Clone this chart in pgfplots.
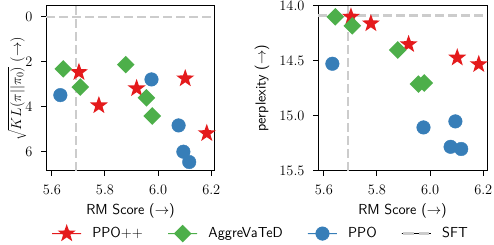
\documentclass[border=0pt]{standalone}
\usepackage{pgfplots}
\pgfplotsset{compat=1.18}
\definecolor{cRed}{HTML}{E41A1C}
\definecolor{cGreen}{HTML}{4DAF4A}
\definecolor{cBlue}{HTML}{377EB8}
\definecolor{cGray}{HTML}{CCCCCC}
\pgfdeclareplotmark{fstar}{%
  \pgfpathmoveto{\pgfpointpolar{90}{\pgfplotmarksize}}%
  \pgfpathlineto{\pgfpointpolar{126}{0.4*\pgfplotmarksize}}%
  \pgfpathlineto{\pgfpointpolar{162}{\pgfplotmarksize}}%
  \pgfpathlineto{\pgfpointpolar{198}{0.4*\pgfplotmarksize}}%
  \pgfpathlineto{\pgfpointpolar{234}{\pgfplotmarksize}}%
  \pgfpathlineto{\pgfpointpolar{270}{0.4*\pgfplotmarksize}}%
  \pgfpathlineto{\pgfpointpolar{306}{\pgfplotmarksize}}%
  \pgfpathlineto{\pgfpointpolar{342}{0.4*\pgfplotmarksize}}%
  \pgfpathlineto{\pgfpointpolar{18}{\pgfplotmarksize}}%
  \pgfpathlineto{\pgfpointpolar{54}{0.4*\pgfplotmarksize}}%
  \pgfpathclose
  \pgfusepathqfill
}
\pgfdeclareplotmark{sqdiamond}{%
  \pgfpathmoveto{\pgfqpoint{0pt}{\pgfplotmarksize}}%
  \pgfpathlineto{\pgfqpoint{\pgfplotmarksize}{0pt}}%
  \pgfpathlineto{\pgfqpoint{0pt}{-\pgfplotmarksize}}%
  \pgfpathlineto{\pgfqpoint{-\pgfplotmarksize}{0pt}}%
  \pgfpathclose
  \pgfusepathqfill
}
\newcommand{\fs}{\fontsize{14.5}{17}\selectfont}
\pgfplotsset{
  myax/.style={
    scale only axis, width=169pt, height=165pt,
    xmin=5.578, xmax=6.214,
    xtick={5.6,5.8,6.0,6.2},
    y dir=reverse,
    tick pos=left, tick align=outside, major tick length=5pt,
    axis line style={line width=1pt},
    every tick/.style={line width=1pt, black},
    tick label style={font=\fs},
    label style={font=\fs\sffamily},
    xticklabel style={yshift=-6pt, /pgf/number format/.cd, fixed, fixed zerofill, precision=1},
    yticklabel style={xshift=-5pt},
    xlabel={RM Score ($\rightarrow$)},
    xlabel style={at={(axis description cs:0.5,0)}, anchor=center, yshift=-40pt},
    clip=false,
  },
  sft/.style={cGray, line width=2.2pt, dash pattern=on 9pt off 4pt},
  pstar/.style={only marks, mark=fstar, mark size=9.5pt, color=cRed, fill=cRed},
  pdia/.style={only marks, mark=sqdiamond, mark size=8.8pt, color=cGreen, fill=cGreen},
  pcirc/.style={only marks, mark=*, mark size=6.8pt, color=cBlue, fill=cBlue, mark options={draw=cBlue, fill=cBlue}},
  mklegend/.style={legend image code/.code={%
    \path (0pt,0pt) rectangle (29pt,0pt);
    \draw[mark repeat=2, mark phase=2, ##1] plot coordinates {(0pt,0pt) (14.5pt,0pt) (29pt,0pt)};}},
}
\begin{document}
\begin{tikzpicture}
\path[use as bounding box] (0,0) rectangle (494pt,245pt);
\begin{axis}[myax, at={(46pt,74pt)}, anchor=south west,
  ymin=-0.49, ymax=6.86, ytick={0,2,4,6},
  ylabel={$\sqrt{KL(\pi||\pi_0)}$ $(\rightarrow)$},
  ylabel style={at={(axis description cs:-0.172,0.5)}, anchor=center, inner sep=0pt},
  legend columns=4,
  legend style={at={(0.0166,-0.377)}, anchor=west, draw=none, fill=none, font=\fs\sffamily,
    nodes={inner sep=0pt},
    /tikz/every odd column/.append style={column sep=11pt},
    /tikz/every even column/.append style={column sep=25pt}},
]
\addplot[sft, forget plot] coordinates {(5.69,-0.49) (5.69,6.86)};
\addplot[sft, forget plot] coordinates {(5.578,0) (6.214,0)};
\addplot[pstar, mklegend] coordinates {(5.702,2.46) (5.777,3.94) (5.919,3.18) (6.102,2.74) (6.183,5.18)};
\addlegendentry{PPO++}
\addplot[pdia, mklegend] coordinates {(5.643,2.31) (5.707,3.12) (5.878,2.12) (5.956,3.60) (5.978,4.41)};
\addlegendentry{AggreVaTeD}
\addplot[pcirc, mklegend] coordinates {(5.632,3.48) (5.975,2.78) (6.077,4.83) (6.095,6.00) (6.117,6.46)};
\addlegendentry{PPO}
\addlegendimage{legend image code/.code={\path (0pt,0pt) rectangle (29pt,0pt); \draw[cGray, line width=2.2pt, dash pattern=on 10.5pt off 5pt] (1.5pt,0pt) -- (27.5pt,0pt);}}
\addlegendentry{SFT}
\end{axis}
\begin{axis}[myax, at={(318pt,74pt)}, anchor=south west,
  ymin=14.0, ymax=15.5, ytick={14.0,14.5,15.0,15.5},
  yticklabel style={/pgf/number format/.cd, fixed, fixed zerofill, precision=1},
  ylabel={perplexity ($\rightarrow$)},
  ylabel style={at={(axis description cs:-0.331,0.5)}, anchor=center},
]
\addplot[sft] coordinates {(5.69,14.0) (5.69,15.5)};
\addplot[sft] coordinates {(5.578,14.087) (6.214,14.087)};
\addplot[pstar] coordinates {(5.702,14.098) (5.777,14.159) (5.919,14.348) (6.102,14.47) (6.183,14.53)};
\addplot[pdia] coordinates {(5.643,14.098) (5.707,14.18) (5.878,14.40) (5.956,14.71) (5.978,14.70)};
\addplot[pcirc] coordinates {(5.632,14.525) (5.975,15.104) (6.095,15.049) (6.077,15.28) (6.117,15.30)};
\end{axis}
\end{tikzpicture}
\end{document}
